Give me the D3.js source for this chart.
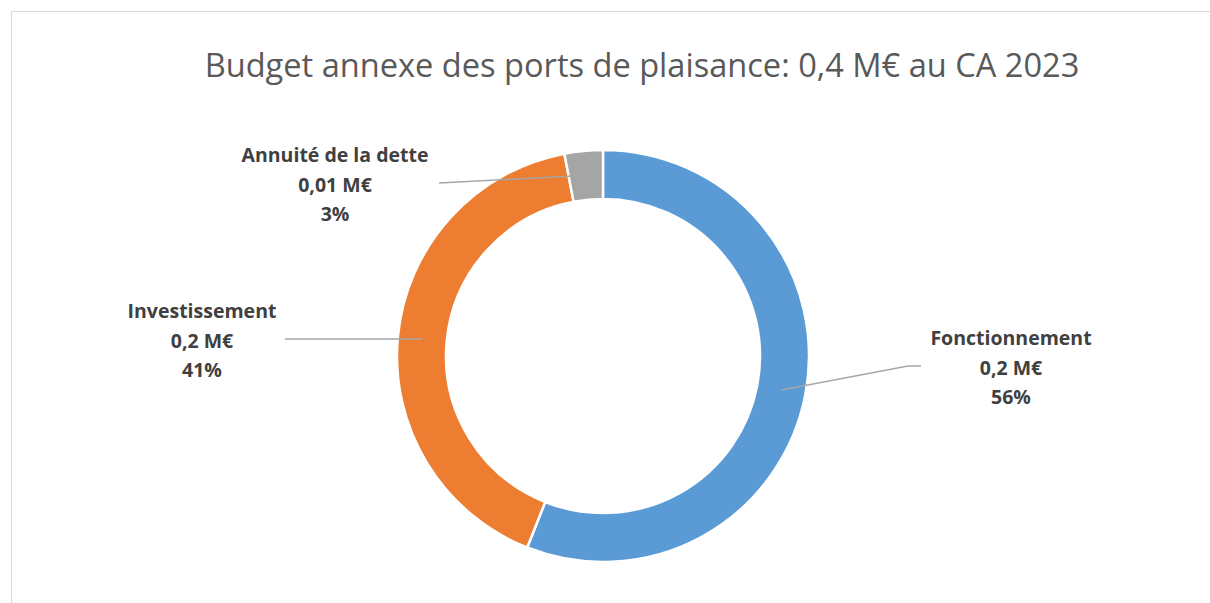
<!DOCTYPE html>
<html>
<head>
<meta charset="utf-8">
<script src="https://cdn.jsdelivr.net/npm/d3@7"></script>
<style>
  html, body { margin: 0; padding: 0; background: #fff; }
  svg { display: block; }
</style>
</head>
<body>
<svg id="chart" width="1210" height="603"></svg>
<script>
// Budget annexe des ports de plaisance — CA 2023
const categories = ["Fonctionnement", "Investissement", "Annuité de la dette"];
const shares = [56, 41, 3];               // % of total
const amounts = ["0,2 M€", "0,2 M€", "0,01 M€"];
const colors = ["#5B9BD5", "#ED7D31", "#A5A5A5"];
const title = "Budget annexe des ports de plaisance: 0,4 M€ au CA 2023";

const data = categories.map((c, i) => ({ name: c, value: shares[i], amount: amounts[i], color: colors[i] }));

const svg = d3.select("#chart");
const W = 1210, H = 603;

// chart frame
svg.append("rect")
  .attr("x", 11.5).attr("y", 11.5)
  .attr("width", W + 10).attr("height", H + 10)
  .attr("fill", "#fff").attr("stroke", "#d9d9d9").attr("stroke-width", 1);

svg.append("text")
  .attr("x", 642).attr("y", 77)
  .attr("text-anchor", "middle")
  .attr("font-family", "'Open Sans', 'Noto Sans', sans-serif")
  .attr("font-size", 32.6)
  .attr("fill", "#595959")
  .text(title);

const cx = 603, cy = 356, R = 206, r = 157;

const pie = d3.pie().value(d => d.value).sort(null);
const arc = d3.arc().innerRadius(r).outerRadius(R);
const mid = d3.arc().innerRadius((R + r) / 2).outerRadius((R + r) / 2);

const g = svg.append("g").attr("transform", `translate(${cx},${cy})`);
const arcs = pie(data);

g.selectAll("path.slice")
  .data(arcs)
  .join("path")
  .attr("class", "slice")
  .attr("d", arc)
  .attr("fill", d => d.data.color)
  .attr("stroke", "#fff")
  .attr("stroke-width", 2.5);

// label anchor points (page coordinates) and leader line elbows
const labelPos = [
  { x: 1011, y: 345, line: [[921, 366], [908, 366]] },
  { x: 202, y: 318, line: [[285, 339]] },
  { x: 335, y: 162, line: [[439, 183]] }
];

arcs.forEach((a, i) => {
  const c = mid.centroid(a);
  const pts = [[cx + c[0], cy + c[1]]].concat(labelPos[i].line.slice().reverse());
  svg.append("path")
    .attr("d", d3.line()(pts))
    .attr("fill", "none")
    .attr("stroke", "#a6a6a6")
    .attr("stroke-width", 1.5);
});

const font = "'Open Sans', 'Noto Sans', sans-serif";
arcs.forEach((a, i) => {
  const lp = labelPos[i];
  const t = svg.append("text")
    .attr("text-anchor", "middle")
    .attr("font-family", font)
    .attr("font-weight", "bold")
    .attr("font-size", 19.5)
    .attr("fill", "#404040");
  [a.data.name, a.data.amount, a.data.value + "%"].forEach((s, k) => {
    t.append("tspan").attr("x", lp.x).attr("y", lp.y + k * 29.5).text(s);
  });
});
</script>
</body>
</html>
